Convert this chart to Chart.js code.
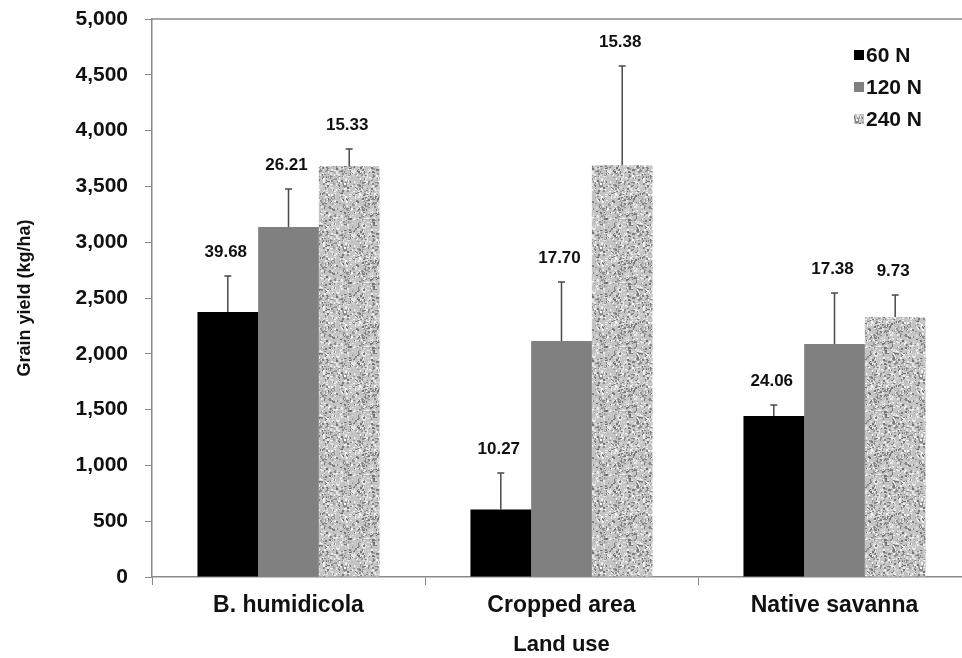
<!DOCTYPE html>
<html lang="en">
<head>
    <meta charset="UTF-8">
    <title>Grain yield by land use</title>
    <script src="https://cdn.jsdelivr.net/npm/chart.js@4.4.1/dist/chart.umd.js"></script>
    <style>
        html, body { margin: 0; padding: 0; background: #fff; overflow: hidden; }
        #wrap { width: 976px; height: 658px; }
    </style>
</head>
<body>
    <div id="wrap"><canvas id="chart"></canvas></div>

    <script>
        // values (kg/ha)
        const landUse = ['B. humidicola', 'Cropped area', 'Native savanna'];
        const seriesNames = ['60 N', '120 N', '240 N'];

        const yield60 = [2375, 604, 1443];
        const yield120 = [3136, 2114, 2088];
        const yield240 = [3683, 3690, 2330];

        const err60 = [322, 327, 98];
        const err120 = [341, 529, 457];
        const err240 = [152, 888, 197];

        // numbers printed above each bar
        const note60 = ['39.68', '10.27', '24.06'];
        const note120 = ['26.21', '17.70', '17.38'];
        const note240 = ['15.33', '15.38', '9.73'];

        const yTicks = [0, 500, 1000, 1500, 2000, 2500, 3000, 3500, 4000, 4500, 5000];

        const FONT = "'Liberation Sans', Arial, sans-serif";
        const AXIS_GREY = '#8a8a8a';

        // speckled grey fill for the 240 N bars (seeded so it is the same every run)
        function makeSpeckle() {
            const c = document.createElement('canvas');
            c.width = 64; c.height = 64;
            const g = c.getContext('2d');
            let seed = 12345;
            const rnd = () => { seed = (seed * 1103515245 + 12345) % 2147483648; return seed / 2147483648; };
            g.fillStyle = '#c4c4c4';
            g.fillRect(0, 0, 64, 64);
            for (let n = 0; n < 900; n++) {
                const x = Math.floor(rnd() * 64), y = Math.floor(rnd() * 64);
                const v = rnd() < 0.5 ? Math.round(110 + rnd() * 50) : Math.round(215 + rnd() * 35);
                g.fillStyle = `rgb(${v},${v},${v})`;
                g.fillRect(x, y, 1 + Math.floor(rnd() * 2), 1 + Math.floor(rnd() * 2));
            }
            return g.createPattern(c, 'repeat');
        }
        const speckle = makeSpeckle();

        const errors = [err60, err120, err240];
        const notes = [note60, note120, note240];

        // error bars + printed numbers
        const errorBarPlugin = {
            id: 'errorBars',
            afterDatasetsDraw(chart) {
                const ctx = chart.ctx;
                const yScale = chart.scales.y;
                ctx.save();
                chart.data.datasets.forEach((ds, di) => {
                    const meta = chart.getDatasetMeta(di);
                    meta.data.forEach((bar, i) => {
                        const top = yScale.getPixelForValue(ds.data[i] + errors[di][i]);
                        ctx.strokeStyle = '#4a4a4a';
                        ctx.lineWidth = 1.5;
                        ctx.beginPath();
                        ctx.moveTo(bar.x, bar.y);
                        ctx.lineTo(bar.x, top);
                        ctx.moveTo(bar.x - 3.5, top);
                        ctx.lineTo(bar.x + 3.5, top);
                        ctx.stroke();

                        ctx.fillStyle = '#111';
                        ctx.font = 'bold 17px ' + FONT;
                        ctx.textAlign = 'center';
                        ctx.textBaseline = 'middle';
                        ctx.fillText(notes[di][i], bar.x - 2, top - 24);
                    });
                });
                ctx.restore();
            }
        };

        // top frame line and legend
        const framePlugin = {
            id: 'frame',
            afterDraw(chart) {
                const ctx = chart.ctx;
                const a = chart.chartArea;
                ctx.save();
                ctx.strokeStyle = AXIS_GREY;
                ctx.lineWidth = 1.5;
                ctx.beginPath();
                ctx.moveTo(a.left, a.top);
                ctx.lineTo(a.right, a.top);
                ctx.stroke();

                const fills = ['#000000', '#808080', speckle];
                ctx.font = 'bold 21px ' + FONT;
                ctx.textAlign = 'left';
                ctx.textBaseline = 'middle';
                seriesNames.forEach((name, i) => {
                    const cy = 55 + i * 32;
                    ctx.fillStyle = fills[i];
                    ctx.fillRect(854, cy - 5, 10, 10);
                    ctx.fillStyle = '#111';
                    ctx.fillText(name, 866, cy + 1);
                });
                ctx.restore();
            }
        };

        new Chart(document.getElementById('chart'), {
            type: 'bar',
            data: {
                labels: landUse,
                datasets: [
                    { label: seriesNames[0], data: yield60, backgroundColor: '#000000' },
                    { label: seriesNames[1], data: yield120, backgroundColor: '#808080' },
                    { label: seriesNames[2], data: yield240, backgroundColor: speckle }
                ]
            },
            options: {
                responsive: true,
                maintainAspectRatio: false,
                animation: false,
                layout: { padding: { top: 19, right: 5, left: 0, bottom: 0 } },
                datasets: { bar: { categoryPercentage: 0.667, barPercentage: 1.0 } },
                plugins: {
                    legend: { display: false },
                    tooltip: { enabled: false }
                },
                scales: {
                    x: {
                        afterFit(scale) { scale.height = 81; scale.paddingLeft = 0; scale.paddingRight = 0; },
                        border: { color: AXIS_GREY, width: 1.5 },
                        grid: {
                            offset: true,
                            drawOnChartArea: false,
                            drawTicks: true,
                            tickLength: 8,
                            color: AXIS_GREY
                        },
                        ticks: {
                            color: '#111',
                            font: { family: FONT, size: 23, weight: 'bold' },
                            padding: 7
                        },
                        title: {
                            display: true,
                            text: 'Land use',
                            color: '#111',
                            font: { family: FONT, size: 22, weight: 'bold' },
                            padding: { top: 0, bottom: 0 }
                        }
                    },
                    y: {
                        min: 0,
                        max: 5000,
                        afterFit(scale) { scale.width = 152; scale.paddingTop = 0; scale.paddingBottom = 0; },
                        afterBuildTicks(scale) { scale.ticks = yTicks.map(v => ({ value: v })); },
                        border: { color: AXIS_GREY, width: 1.5 },
                        grid: {
                            drawOnChartArea: false,
                            drawTicks: true,
                            tickLength: 7,
                            color: AXIS_GREY
                        },
                        ticks: {
                            color: '#111',
                            font: { family: FONT, size: 21, weight: 'bold' },
                            padding: 17,
                            callback: v => v.toLocaleString('en-US')
                        },
                        title: {
                            display: true,
                            text: 'Grain yield (kg/ha)',
                            color: '#111',
                            font: { family: FONT, size: 18, weight: 'bold' },
                            padding: { top: 14, bottom: 0 }
                        }
                    }
                }
            },
            plugins: [errorBarPlugin, framePlugin]
        });
    </script>
</body>
</html>
